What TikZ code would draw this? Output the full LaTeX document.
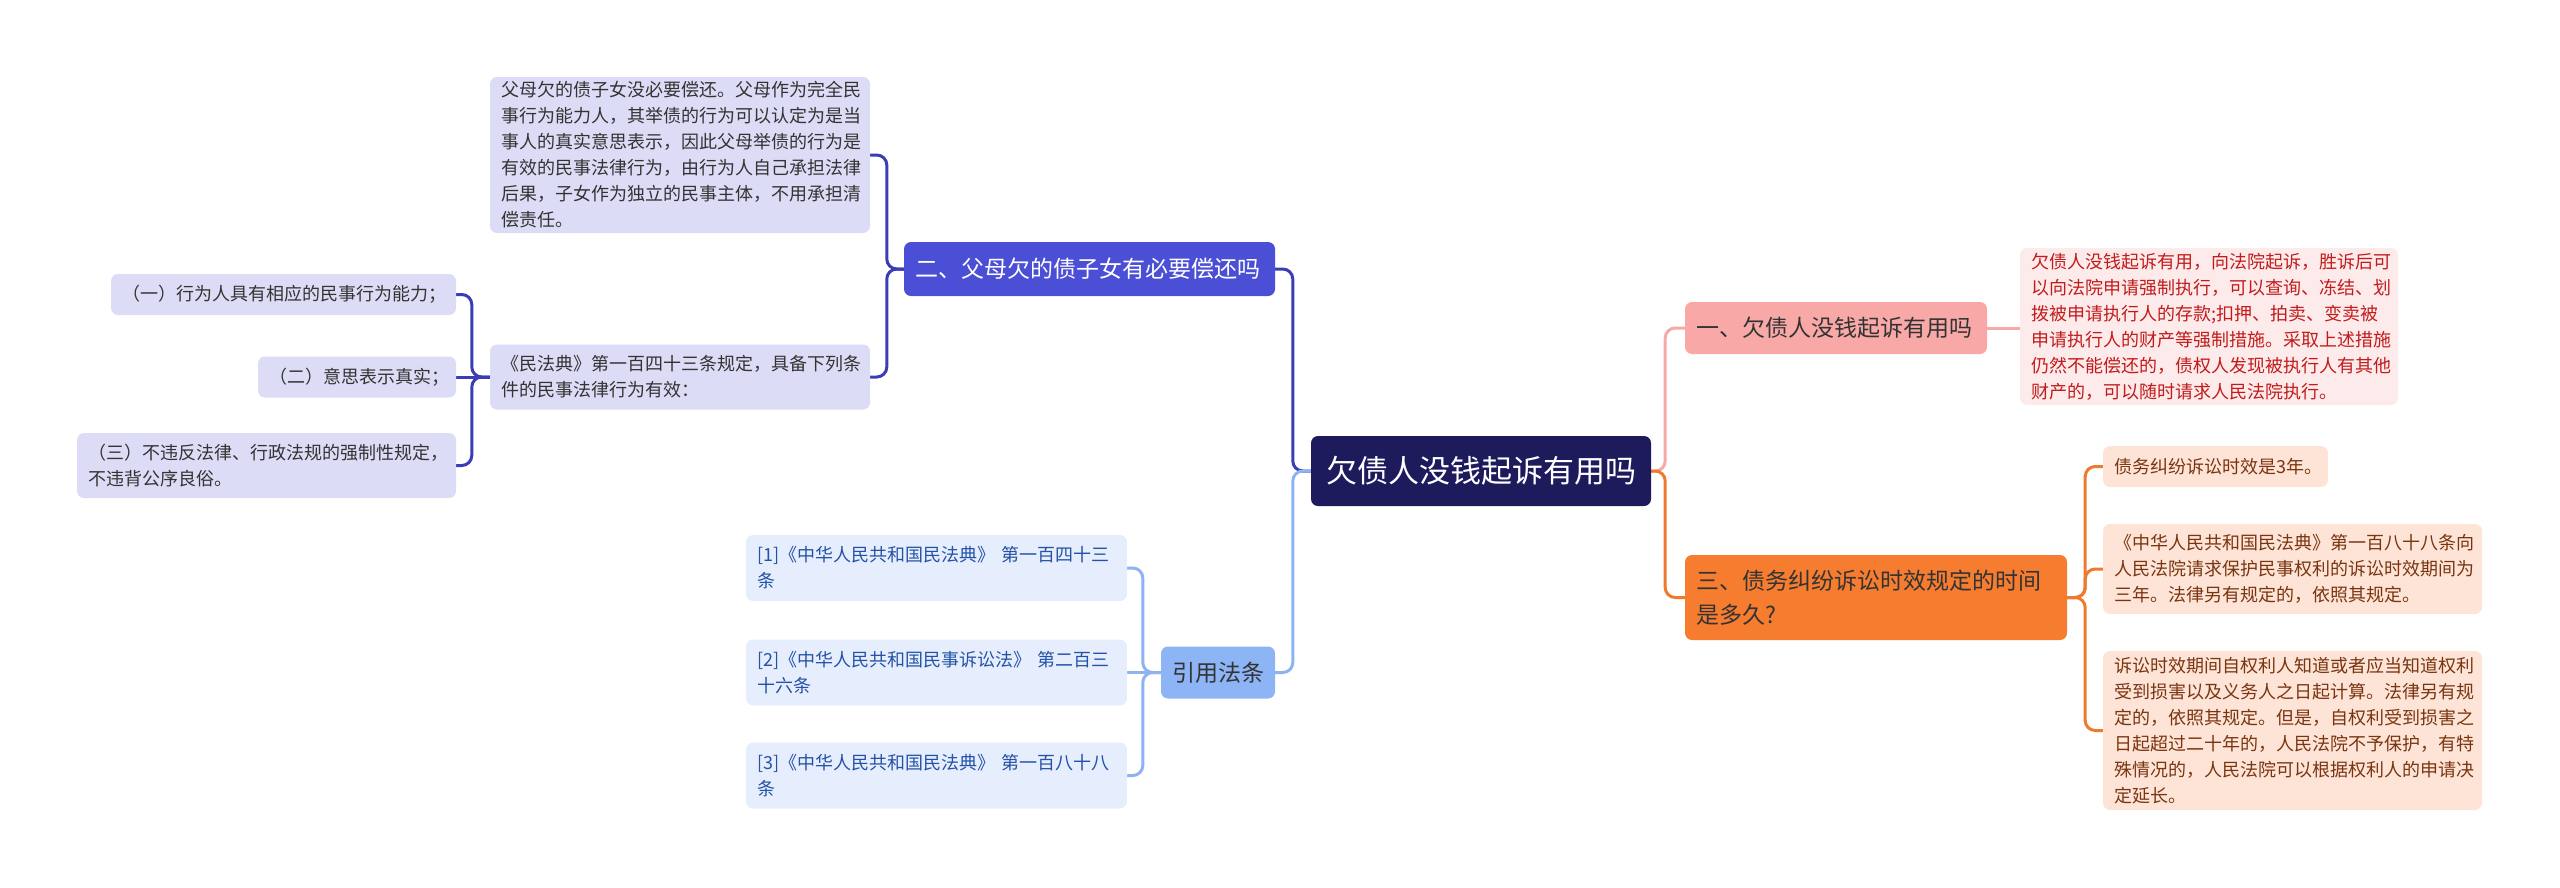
\documentclass[tikz,border=0pt]{standalone}
\usepackage{fontspec}
\usetikzlibrary{backgrounds}
\newfontfamily\cjk{Noto Sans CJK SC}
\definecolor{rootc}{HTML}{1D1B5C}
\definecolor{btwo}{HTML}{4B4FD6}
\definecolor{ltwo}{HTML}{3A3DB5}
\definecolor{lavf}{HTML}{DCDCF6}
\definecolor{reff}{HTML}{8DB4F5}
\definecolor{refl}{HTML}{8DB4F0}
\definecolor{refleaf}{HTML}{E6EEFD}
\definecolor{reftext}{HTML}{2452A6}
\definecolor{bone}{HTML}{F8A9A7}
\definecolor{lone}{HTML}{F5AAA8}
\definecolor{pinkf}{HTML}{FDEBEB}
\definecolor{redt}{HTML}{C21B1B}
\definecolor{bthree}{HTML}{F67C2F}
\definecolor{lthree}{HTML}{EE7A30}
\definecolor{peach}{HTML}{FDE4D7}
\definecolor{brownt}{HTML}{7A3510}
\definecolor{darkt}{HTML}{333333}
\tikzset{
  box/.style={rounded corners=7pt, inner xsep=0pt, inner ysep=0pt, align=left, anchor=center},
  leaf/.style={box, font=\cjk\fontsize{18}{26}\selectfont},
  branch/.style={box, font=\cjk\fontsize{23}{34}\selectfont},
  bx/.style n args={3}{minimum width=#1pt, text width=#2pt, minimum height=#3pt},
  conn/.style={line width=3pt, rounded corners=10pt},
}
\begin{document}
\begin{tikzpicture}[x=1pt,y=-1pt]
\useasboundingbox (0,0) rectangle (2560,887);
% root
\node[box, fill=rootc, text=white, font=\cjk\fontsize{31}{38}\selectfont, minimum width=340pt, minimum height=70pt, align=center] (root) at (1481,471) {欠债人没钱起诉有用吗};
% left branch two
\node[branch, fill=btwo, text=white, bx={371}{349}{54}] (b2) at (1089.5,269) {二、父母欠的债子女有必要偿还吗};
\node[leaf, fill=lavf, text=darkt, bx={380}{358}{156}] (a1) at (680,155) {父母欠的债子女没必要偿还。父母作为完全民\\事行为能力人，其举债的行为可以认定为是当\\事人的真实意思表示，因此父母举债的行为是\\有效的民事法律行为，由行为人自己承担法律\\后果，子女作为独立的民事主体，不用承担清\\偿责任。};
\node[leaf, fill=lavf, text=darkt, bx={380}{358}{65}] (a2) at (680,377) {《民法典》第一百四十三条规定，具备下列条\\件的民事法律行为有效：};
\node[leaf, fill=lavf, text=darkt, bx={345}{323}{41}] (s1) at (283.5,294.5) {（一）行为人具有相应的民事行为能力；};
\node[leaf, fill=lavf, text=darkt, bx={198}{176}{41}] (s2) at (357,377) {（二）意思表示真实；};
\node[leaf, fill=lavf, text=darkt, bx={379}{357}{65}] (s3) at (266.5,465.5) {（三）不违反法律、行政法规的强制性规定，\\不违背公序良俗。};
% left branch refs
\node[branch, fill=reff, text=darkt, minimum width=114pt, minimum height=52pt, align=center] (ref) at (1218,672.5) {引用法条};
\node[leaf, fill=refleaf, text=reftext, bx={381}{359}{66}] (r1) at (936.5,568) {[1]《中华人民共和国民法典》 第一百四十三\\条};
\node[leaf, fill=refleaf, text=reftext, bx={381}{359}{66}] (r2) at (936.5,672.5) {[2]《中华人民共和国民事诉讼法》 第二百三\\十六条};
\node[leaf, fill=refleaf, text=reftext, bx={381}{359}{66}] (r3) at (936.5,775.5) {[3]《中华人民共和国民法典》 第一百八十八\\条};
% right branch one
\node[branch, fill=bone, text=darkt, bx={302}{280}{52}] (b1) at (1836,328) {一、欠债人没钱起诉有用吗};
\node[leaf, fill=pinkf, text=redt, bx={378}{356}{157}] (l1) at (2209,326.5) {欠债人没钱起诉有用，向法院起诉，胜诉后可\\以向法院申请强制执行，可以查询、冻结、划\\拨被申请执行人的存款;扣押、拍卖、变卖被\\申请执行人的财产等强制措施。采取上述措施\\仍然不能偿还的，债权人发现被执行人有其他\\财产的，可以随时请求人民法院执行。};
% right branch three
\node[branch, fill=bthree, text=darkt, bx={382}{360}{85}] (b3) at (1876,597.5) {三、债务纠纷诉讼时效规定的时间\\是多久?};
\node[leaf, fill=peach, text=brownt, bx={225}{203}{41}] (o1) at (2215.5,466.5) {债务纠纷诉讼时效是3年。};
\node[leaf, fill=peach, text=brownt, bx={379}{357}{90}] (o2) at (2292.5,569) {《中华人民共和国民法典》第一百八十八条向\\人民法院请求保护民事权利的诉讼时效期间为\\三年。法律另有规定的，依照其规定。};
\node[leaf, fill=peach, text=brownt, bx={379}{357}{159}] (o3) at (2292.5,730.5) {诉讼时效期间自权利人知道或者应当知道权利\\受到损害以及义务人之日起计算。法律另有规\\定的，依照其规定。但是，自权利受到损害之\\日起超过二十年的，人民法院不予保护，有特\\殊情况的，人民法院可以根据权利人的申请决\\定延长。};
% connectors
\begin{scope}[on background layer]
\draw[conn, ltwo] (root.west) -- ++(-18,0) |- (b2.east);
\draw[conn, refl] (root.west) -- ++(-18,0) |- (ref.east);
\draw[conn, ltwo] (b2.west) -- ++(-17,0) |- (a1.east);
\draw[conn, ltwo] (b2.west) -- ++(-17,0) |- (a2.east);
\draw[conn, ltwo] (a2.west) -- ++(-18,0) |- (s1.east);
\draw[conn, ltwo] (a2.west) -- (s2.east);
\draw[conn, ltwo] (a2.west) -- ++(-18,0) |- (s3.east);
\draw[conn, refl] (ref.west) -- ++(-18,0) |- (r1.east);
\draw[conn, refl] (ref.west) -- (r2.east);
\draw[conn, refl] (ref.west) -- ++(-18,0) |- (r3.east);
\draw[conn, lone] (root.east) -- ++(14,0) |- (b1.west);
\draw[conn, lthree] (root.east) -- ++(14,0) |- (b3.west);
\draw[conn, lone] (b1.east) -- (l1.west |- b1.east);
\draw[conn, lthree] (b3.east) -- ++(18,0) |- (o1.west);
\draw[conn, lthree] (b3.east) -- ++(18,0) |- (o2.west);
\draw[conn, lthree] (b3.east) -- ++(18,0) |- (o3.west);
\end{scope}
\end{tikzpicture}
\end{document}
